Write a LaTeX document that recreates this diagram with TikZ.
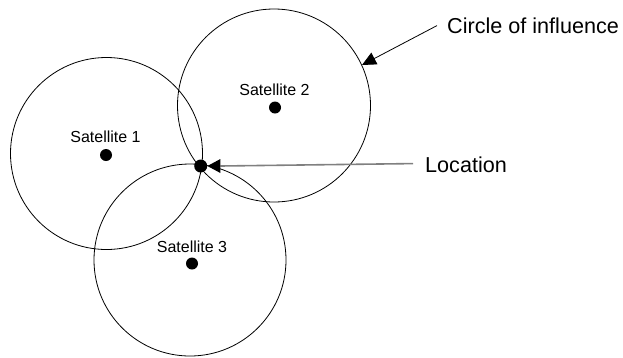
\documentclass[tikz,border=0pt]{standalone}
\usepackage{fontspec}
\setmainfont{Liberation Sans}[Ligatures=NoCommon]
\usetikzlibrary{arrows.meta}
\begin{document}
\begin{tikzpicture}[x=1pt,y=-1pt,
  zone/.style={draw=black,line width=0.8pt},
  sat/.style={circle,fill=black,inner sep=0pt,minimum size=12pt},
  satlabel/.style={inner sep=0pt,anchor=base,font=\fontsize{16}{16}\selectfont},
  callout/.style={inner sep=0pt,anchor=base west,font=\fontsize{21.6}{22}\selectfont},
  pointer/.style={line width=0.8pt,-{Triangle[length=14pt,width=13pt]}},
  head/.style={fill=black}]
\useasboundingbox (0,0) rectangle (623,357);

% circles of influence
\draw[zone] (106.5,153.5) circle[radius=96];
\draw[zone] (274,105.5) circle[radius=96.5];
\draw[zone] (190,260) circle[radius=96];

% satellites
\node[sat] (s1) at (106,155) {};
\node[sat] (s2) at (275,107.5) {};
\node[sat] (s3) at (192,263.5) {};
\node[satlabel] (l1) at (105.5,142) {Satellite 1};
\node[satlabel] (l2) at (274.5,95) {Satellite 2};
\node[satlabel] (l3) at (192,252.7) {Satellite 3};

% position fix, pointed at by a grey shaft with a black head
\node[sat,minimum size=13pt] (fix) at (200.7,166) {};
\node[callout] (loc) at (425,172.3) {Location};
\coordinate (base) at ([xshift=13pt]fix.east);
\draw[draw=gray,line width=1.6pt] ([xshift=-12pt,yshift=1pt]loc.west) -- (base);
\fill[head] (fix.east) -- ([yshift=-7pt]base) -- ([yshift=7pt]base) -- cycle;

% callout for the circle
\node[callout] (infl) at (447,33.3) {Circle of influence};
\coordinate (edge) at (362,65);
\draw[pointer] ([xshift=-10pt]infl.west) -- (edge);
\end{tikzpicture}
\end{document}
